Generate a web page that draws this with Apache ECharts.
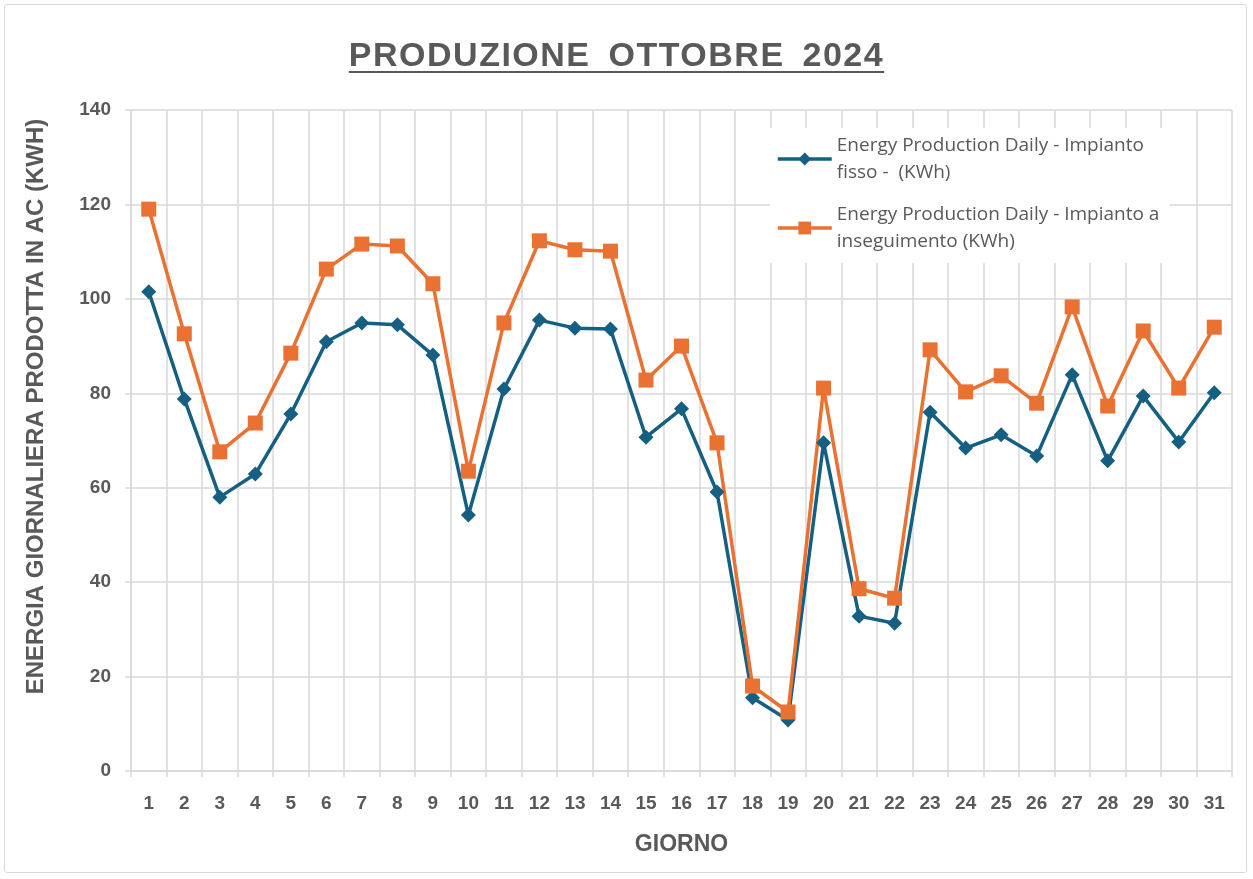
<!DOCTYPE html>
<html>
<head>
<meta charset="utf-8">
<script src="https://cdn.jsdelivr.net/npm/echarts@6/dist/echarts.min.js"></script>
<style>
  html, body { margin: 0; padding: 0; background: #fff; }
  #wrap { position: relative; width: 1253px; height: 879px; }
  #frame { position: absolute; left: 4px; top: 4px; width: 1243px; height: 869px;
    border: 1px solid #d9d9d9; border-radius: 3px; box-sizing: border-box; }
  #chart { position: absolute; left: 0; top: 0; width: 1253px; height: 879px; }
  #title { position: absolute; left: 0; width: 1233px; top: 35px; text-align: center;
    font-family: 'Liberation Sans', Arial, sans-serif; font-weight: bold; font-size: 34px;
    letter-spacing: 1.5px; word-spacing: 7px; color: #595959; text-decoration: underline;
    text-underline-offset: 5px; text-decoration-thickness: 2px; z-index: 2; }
</style>
</head>
<body>
<div id="wrap">
  <div id="chart"></div>
  <div id="frame"></div>
  <div id="title">PRODUZIONE OTTOBRE 2024</div>
</div>
<script>
const days = ['1','2','3','4','5','6','7','8','9','10','11','12','13','14','15','16','17','18','19','20','21','22','23','24','25','26','27','28','29','30','31'];
const fisso = [101.5, 78.8, 58.0, 62.9, 75.6, 90.9, 94.9, 94.5, 88.1, 54.2, 80.9, 95.5, 93.8, 93.6, 70.7, 76.7, 59.1, 15.5, 10.8, 69.5, 32.8, 31.3, 76.0, 68.4, 71.2, 66.7, 83.9, 65.7, 79.4, 69.7, 80.1];
const inseguimento = [119.0, 92.6, 67.6, 73.7, 88.5, 106.3, 111.6, 111.2, 103.2, 63.5, 94.9, 112.3, 110.4, 110.1, 82.8, 90.0, 69.5, 18.0, 12.5, 81.1, 38.6, 36.6, 89.2, 80.3, 83.7, 77.9, 98.3, 77.3, 93.2, 81.1, 94.0];
const nameFisso = 'Energy Production Daily - Impianto\nfisso -  (KWh)';
const nameInseg = 'Energy Production Daily - Impianto a\ninseguimento (KWh)';

const grey = '#595959';
const gridColor = '#d9d9d9';
const sans = '"Liberation Sans", Arial, sans-serif';
const chart = echarts.init(document.getElementById('chart'));
chart.setOption({
  animation: false,
  backgroundColor: '#fff',
  grid: { left: 131, right: 21, top: 110, bottom: 108 },
  legend: {
    left: 770, top: 128, orient: 'vertical',
    backgroundColor: '#fff',
    padding: [4, 10, 8, 6],
    itemWidth: 54, itemHeight: 16, itemGap: 15,
    lineStyle: { width: 3.5 },
    textStyle: { color: grey, fontSize: 19, lineHeight: 27, fontFamily: '"Open Sans", Lato, sans-serif' },
    data: [nameFisso, nameInseg]
  },
  xAxis: {
    type: 'category',
    data: days,
    boundaryGap: true,
    name: 'GIORNO',
    nameLocation: 'middle',
    nameGap: 62,
    nameTextStyle: { color: grey, fontSize: 23, fontWeight: 'bold', fontFamily: sans },
    axisLine: { lineStyle: { color: gridColor, width: 1.5 } },
    axisTick: { show: true, length: 6, lineStyle: { color: gridColor, width: 1.5 } },
    axisLabel: { color: grey, fontSize: 19, fontWeight: 'bold', margin: 23, interval: 0, fontFamily: sans },
    splitLine: { show: true, lineStyle: { color: gridColor, width: 1.5 } }
  },
  yAxis: {
    type: 'value',
    min: 0, max: 140, interval: 20,
    name: 'ENERGIA GIORNALIERA PRODOTTA IN AC (KWH)',
    nameLocation: 'middle',
    nameGap: 83,
    nameTextStyle: { color: grey, fontSize: 24, fontWeight: 'bold', fontFamily: sans, padding: [0, 0, 0, 68] },
    axisLine: { show: true, lineStyle: { color: gridColor, width: 1.5 } },
    axisTick: { show: true, length: 6, lineStyle: { color: gridColor, width: 1.5 } },
    axisLabel: { color: grey, fontSize: 19, fontWeight: 'bold', margin: 20, fontFamily: sans },
    splitLine: { show: true, lineStyle: { color: gridColor, width: 1.5 } }
  },
  series: [
    {
      name: nameFisso, type: 'line', data: fisso,
      symbol: 'diamond', symbolSize: 15,
      lineStyle: { color: '#156082', width: 3.5 },
      itemStyle: { color: '#156082' }
    },
    {
      name: nameInseg, type: 'line', data: inseguimento,
      symbol: 'rect', symbolSize: 15,
      lineStyle: { color: '#E97132', width: 3.5 },
      itemStyle: { color: '#E97132' }
    }
  ]
});
</script>
</body>
</html>
